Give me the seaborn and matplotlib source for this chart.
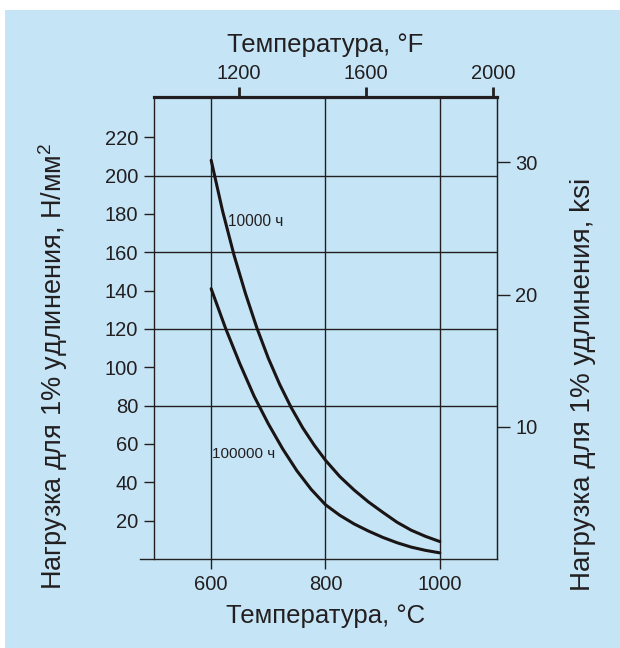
import numpy as np
import pandas as pd
import matplotlib
matplotlib.use("Agg")
import matplotlib.pyplot as plt
import seaborn as sns
from matplotlib.patches import Rectangle

# --- данные ---
temp_10k = [600, 620, 640, 660, 680, 700, 720, 740, 760, 780, 800, 825, 850, 875, 900, 925, 950, 975, 1000]
load_10k = [208, 181.5, 158.5, 138.5, 120.5, 104.7, 91, 79, 68.5, 59.5, 51.5, 43, 36, 29.8, 24.4, 19.2, 15, 11.8, 9.1]

temp_100k = [600, 625, 650, 675, 700, 725, 750, 775, 800, 825, 850, 875, 900, 925, 950, 975, 1000]
load_100k = [141, 120.5, 102, 85, 70.5, 57.5, 46, 36.3, 28.3, 22.8, 18.3, 14.6, 11.3, 8.5, 6.2, 4.5, 3.2]

curve_labels = ["10000 ч", "100000 ч"]

x_ticks_c = [600, 800, 1000]
x_ticks_f = [1200, 1600, 2000]
y_ticks_n = [20, 40, 60, 80, 100, 120, 140, 160, 180, 200, 220]
y_ticks_ksi = [10, 20, 30]
grid_loads = [80, 120, 160, 200]

BG = "#c5e5f7"
INK = "#231f20"
KSI = 6.895  # Н/мм² в 1 ksi

sns.set_style("ticks")
plt.rcParams["font.family"] = ["Liberation Sans", "DejaVu Sans"]
plt.rcParams["mathtext.fontset"] = "custom"
plt.rcParams["mathtext.rm"] = "Liberation Sans"
plt.rcParams["mathtext.it"] = "Liberation Sans"
plt.rcParams["text.color"] = INK
plt.rcParams["axes.labelcolor"] = INK
plt.rcParams["xtick.color"] = INK
plt.rcParams["ytick.color"] = INK


def c2f(c):
    return np.asarray(c) * 9 / 5 + 32


def f2c(f):
    return (np.asarray(f) - 32) * 5 / 9


def main():
    fig = plt.figure(figsize=(6.2, 6.48), dpi=100, facecolor="white")
    fig.patches.append(Rectangle((5 / 620, 0), 1, 1 - 10 / 648, transform=fig.transFigure,
                                 facecolor=BG, edgecolor="none", zorder=-10))
    ax = fig.add_axes([154 / 620, 1 - 559 / 648, 343 / 620, 462 / 648])
    ax.set_facecolor(BG)

    df = pd.concat([
        pd.DataFrame({"T": temp_10k, "S": load_10k, "curve": curve_labels[0]}),
        pd.DataFrame({"T": temp_100k, "S": load_100k, "curve": curve_labels[1]}),
    ])
    for name, part in df.groupby("curve"):
        sns.lineplot(data=part, x="T", y="S", ax=ax, color="#1a1414", linewidth=2.2,
                     estimator=None, sort=False, zorder=3)

    ax.set_xlim(500, 1100)
    ax.set_ylim(0, 241)
    ax.set_xticks(x_ticks_c)
    ax.set_yticks(y_ticks_n)
    ax.tick_params(axis="both", direction="out", length=7.5, width=1.0, labelsize=14.5, pad=4)

    for x in x_ticks_c:
        ax.axvline(x, color=INK, linewidth=1.0, zorder=1)
    for y in grid_loads:
        ax.axhline(y, color=INK, linewidth=1.0, zorder=1)

    for side in ["left", "bottom", "right"]:
        ax.spines[side].set_color(INK)
        ax.spines[side].set_linewidth(1.0)
    ax.spines["top"].set_visible(False)
    ax.spines["bottom"].set_bounds(476, 1100)

    ax.set_xlabel("Температура, °C", fontsize=18.5, labelpad=7)
    ax.set_ylabel("Нагрузка для 1% удлинения, Н/мм$^2$", fontsize=19.5)
    ax.yaxis.label.set_horizontalalignment("left")
    ax.yaxis.set_label_coords(-0.245, -0.067)

    ax.text(629, 176, curve_labels[0], fontsize=11.2, va="center", ha="left")
    ax.text(602, 55, curve_labels[1], fontsize=11, va="center", ha="left")

    top = ax.secondary_xaxis("top", functions=(c2f, f2c))
    top.set_xticks(x_ticks_f)
    top.tick_params(direction="out", length=7, width=2.0, labelsize=14.5, pad=3)
    top.spines["top"].set_linewidth(2.3)
    top.spines["top"].set_color(INK)
    top.set_xlabel("Температура, °F", fontsize=18.5, labelpad=9)

    right = ax.secondary_yaxis("right", functions=(lambda v: v / KSI, lambda v: v * KSI))
    right.set_yticks(y_ticks_ksi)
    right.tick_params(direction="out", length=9, width=1.0, labelsize=14.5, pad=4)
    right.spines["right"].set_color(INK)
    fig.text(570 / 620, 1 - 591 / 648, "Нагрузка для 1% удлинения, ksi", fontsize=20,
             rotation=90, ha="left", va="bottom")

    fig.savefig("out.png", dpi=100, facecolor="white")


if __name__ == "__main__":
    main()
